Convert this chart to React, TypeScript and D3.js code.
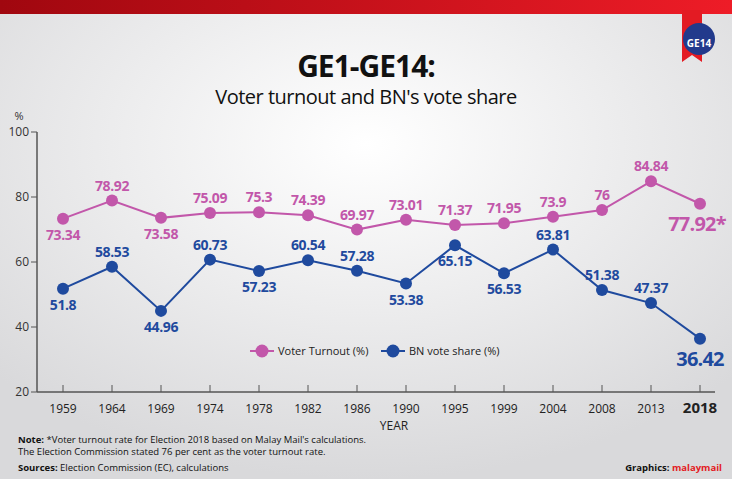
import * as d3 from "d3";

const years = ["1959", "1964", "1969", "1974", "1978", "1982", "1986", "1990", "1995", "1999", "2004", "2008", "2013", "2018"];
const turnout = [73.34, 78.92, 73.58, 75.09, 75.3, 74.39, 69.97, 73.01, 71.37, 71.95, 73.9, 76, 84.84, 77.92];
const bnShare = [51.8, 58.53, 44.96, 60.73, 57.23, 60.54, 57.28, 53.38, 65.15, 56.53, 63.81, 51.38, 47.37, 36.42];
const turnoutAbove = [false, true, false, true, true, true, true, true, true, true, true, true, true, false];
const bnAbove = [false, true, false, true, false, true, true, false, false, false, true, true, true, false];
const yTicks = [20, 40, 60, 80, 100];

const PINK = "#c257aa";
const BLUE = "#1f4a9e";
const FONT = "'Open Sans', 'Noto Sans', sans-serif";

export default function App() {
  const W = 732, H = 479;
  const x = d3.scalePoint<string>().domain(years).range([63, 700]);
  const y = d3.scaleLinear().domain([20, 100]).range([392, 132]);
  const line = d3.line<number>().x((_, i) => x(years[i])!).y(d => y(d));

  const series = [
    { vals: turnout, above: turnoutAbove, color: PINK, fmt: (v: number, i: number) => (i === 13 ? v + "*" : String(v)) },
    { vals: bnShare, above: bnAbove, color: BLUE, fmt: (v: number) => String(v) },
  ];

  return (
    <svg width={W} height={H} style={{ position: "absolute", left: 0, top: 0 }} fontFamily={FONT}>
      <defs>
        <radialGradient id="bg" cx="50%" cy="30%" r="70%">
          <stop offset="0%" stopColor="#ffffff" />
          <stop offset="100%" stopColor="#d9d9db" />
        </radialGradient>
        <linearGradient id="bar" x1="0" x2="1">
          <stop offset="0%" stopColor="#a0070f" />
          <stop offset="100%" stopColor="#ee1c27" />
        </linearGradient>
      </defs>
      <rect width={W} height={H} fill="url(#bg)" />
      <rect width={W} height={14} fill="url(#bar)" />
      {/* badge */}
      <polygon points="682,10 702,10 702,62 692,55 682,62" fill="#e31b23" />
      <circle cx={699} cy={39} r={16} fill="#223a8c" />
      <text x={699} y={47} textAnchor="middle" fontSize={10} fontWeight="bold" fill="#fff">GE14</text>

      <text x={366} y={77} textAnchor="middle" fontSize={30} fontWeight="bold" fill="#111" letterSpacing={-1}>GE1-GE14:</text>
      <text x={366} y={104} textAnchor="middle" fontSize={20} fill="#111" letterSpacing={-0.5}>Voter turnout and BN's vote share</text>

      {/* axes */}
      <text x={19} y={120} textAnchor="middle" fontSize={11} fill="#333">%</text>
      <line x1={37} x2={37} y1={132} y2={392} stroke="#555" strokeWidth={1.5} />
      <line x1={37} x2={715} y1={392} y2={392} stroke="#555" strokeWidth={1.5} />
      {yTicks.map(t => (
        <g key={t}>
          <line x1={31} x2={37} y1={y(t)} y2={y(t)} stroke="#555" />
          <text x={29} y={y(t) + 4} textAnchor="end" fontSize={12} fill="#333">{t}</text>
        </g>
      ))}
      {years.map((yr, i) => (
        <g key={yr}>
          <line x1={x(yr)} x2={x(yr)} y1={385} y2={392} stroke="#555" />
          <text x={x(yr)} y={413} textAnchor="middle" fontSize={i === 13 ? 15 : 12} fontWeight={i === 13 ? "bold" : "normal"} fill="#222">{yr}</text>
        </g>
      ))}
      <text x={394} y={430} textAnchor="middle" fontSize={12} fill="#222">YEAR</text>

      {series.map((s, si) => (
        <g key={si}>
          <path d={line(s.vals)!} fill="none" stroke={s.color} strokeWidth={2} />
          {s.vals.map((v, i) => (
            <circle key={i} cx={x(years[i])} cy={y(v)} r={6} fill={s.color} />
          ))}
          {s.vals.map((v, i) => {
            const big = i === 13;
            return (
              <text key={"t" + i} x={x(years[i]) - (big && si === 0 ? 3 : 0)} y={s.above[i] ? y(v) - 10 : y(v) + (big ? 27 : 21)}
                textAnchor="middle" fontSize={big ? 20 : 14} fontWeight="bold" letterSpacing={big ? -0.8 : -0.4} fill={s.color}>
                {s.fmt(v, i)}
              </text>
            );
          })}
        </g>
      ))}

      {/* legend */}
      <g>
        <line x1={250} x2={274} y1={351} y2={351} stroke={PINK} strokeWidth={2} />
        <circle cx={262} cy={351} r={6.5} fill={PINK} />
        <text x={278} y={355} fontSize={11} fill="#222">Voter Turnout (%)</text>
        <line x1={381} x2={405} y1={351} y2={351} stroke={BLUE} strokeWidth={2} />
        <circle cx={393} cy={351} r={6.5} fill={BLUE} />
        <text x={409} y={355} fontSize={11} fill="#222">BN vote share (%)</text>
      </g>

      <text x={18} y={443} fontSize={9.5} fill="#111"><tspan fontWeight="bold">Note: </tspan>*Voter turnout rate for Election 2018 based on Malay Mail's calculations.</text>
      <text x={18} y={455} fontSize={9.5} fill="#111">The Election Commission stated 76 per cent as the voter turnout rate.</text>
      <text x={18} y={471} fontSize={9.5} fill="#111"><tspan fontWeight="bold">Sources: </tspan>Election Commission (EC), calculations</text>
      <text x={722} y={471} textAnchor="end" fontSize={9.5} fill="#111" fontWeight="bold">Graphics: <tspan fill="#e31b23">malaymail</tspan></text>
    </svg>
  );
}
